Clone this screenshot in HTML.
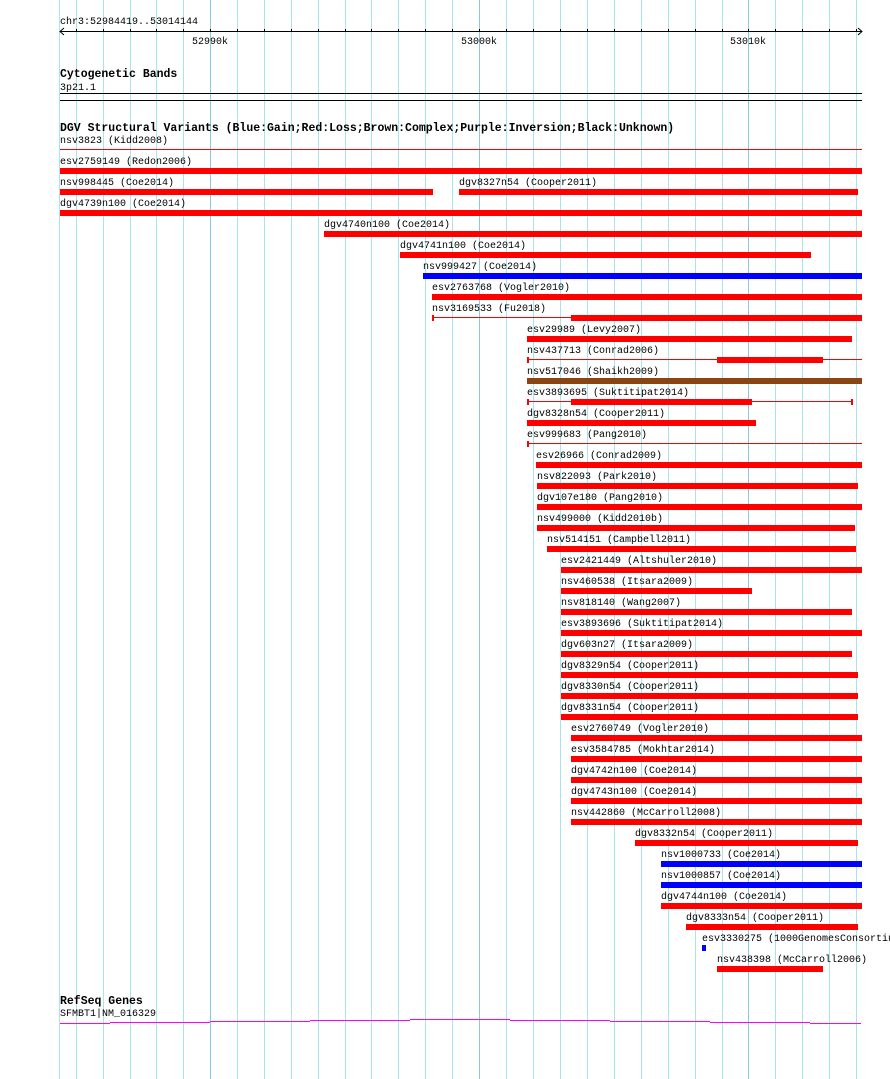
<!DOCTYPE html>
<html><head><meta charset="utf-8"><style>html,body{margin:0;padding:0;background:#fff}svg{display:block}text{font-family:"Liberation Mono",monospace;font-size:10px;fill:#000}.b{font-weight:bold;font-size:11.5px}</style></head><body>
<svg width="890" height="1079" xmlns="http://www.w3.org/2000/svg">
<g stroke="#a8e4ee" stroke-width="1">
<line x1="59.5" y1="0" x2="59.5" y2="1079"/><line x1="76.5" y1="0" x2="76.5" y2="1079"/><line x1="103.5" y1="0" x2="103.5" y2="1079"/><line x1="130.5" y1="0" x2="130.5" y2="1079"/><line x1="156.5" y1="0" x2="156.5" y2="1079"/><line x1="183.5" y1="0" x2="183.5" y2="1079"/><line x1="237.5" y1="0" x2="237.5" y2="1079"/><line x1="264.5" y1="0" x2="264.5" y2="1079"/><line x1="291.5" y1="0" x2="291.5" y2="1079"/><line x1="318.5" y1="0" x2="318.5" y2="1079"/><line x1="345.5" y1="0" x2="345.5" y2="1079"/><line x1="371.5" y1="0" x2="371.5" y2="1079"/><line x1="398.5" y1="0" x2="398.5" y2="1079"/><line x1="425.5" y1="0" x2="425.5" y2="1079"/><line x1="452.5" y1="0" x2="452.5" y2="1079"/><line x1="506.5" y1="0" x2="506.5" y2="1079"/><line x1="533.5" y1="0" x2="533.5" y2="1079"/><line x1="560.5" y1="0" x2="560.5" y2="1079"/><line x1="587.5" y1="0" x2="587.5" y2="1079"/><line x1="614.5" y1="0" x2="614.5" y2="1079"/><line x1="641.5" y1="0" x2="641.5" y2="1079"/><line x1="668.5" y1="0" x2="668.5" y2="1079"/><line x1="695.5" y1="0" x2="695.5" y2="1079"/><line x1="722.5" y1="0" x2="722.5" y2="1079"/><line x1="775.5" y1="0" x2="775.5" y2="1079"/><line x1="802.5" y1="0" x2="802.5" y2="1079"/><line x1="829.5" y1="0" x2="829.5" y2="1079"/><line x1="856.5" y1="0" x2="856.5" y2="1079"/>
</g>
<g stroke="#88c8e8" stroke-width="1"><line x1="210.5" y1="0" x2="210.5" y2="1079"/><line x1="479.5" y1="0" x2="479.5" y2="1079"/><line x1="748.5" y1="0" x2="748.5" y2="1079"/></g>
<text x="60" y="24">chr3:52984419..53014144</text>
<g stroke="#000" stroke-width="1">
<line x1="60" y1="31.5" x2="862" y2="31.5"/>
<polyline points="64,28 60,31.5 64,35" fill="none"/><polyline points="858,28 862,31.5 858,35" fill="none"/>
<path d="M76.5 29v3M103.5 29v3M130.5 29v3M156.5 29v3M183.5 29v3M210.5 29v3M237.5 29v3M264.5 29v3M291.5 29v3M318.5 29v3M345.5 29v3M371.5 29v3M398.5 29v3M425.5 29v3M452.5 29v3M479.5 29v3M506.5 29v3M533.5 29v3M560.5 29v3M587.5 29v3M614.5 29v3M641.5 29v3M668.5 29v3M695.5 29v3M722.5 29v3M748.5 29v3M775.5 29v3M802.5 29v3M829.5 29v3M856.5 29v3"/>
<line x1="60" y1="93.5" x2="862" y2="93.5"/><line x1="60" y1="100.5" x2="862" y2="100.5"/>
</g>
<text x="192" y="44">52990k</text><text x="461" y="44">53000k</text><text x="730" y="44">53010k</text>
<text class="b" x="60" y="77">Cytogenetic Bands</text>
<text x="60" y="90">3p21.1</text>
<text class="b" x="60" y="131">DGV Structural Variants (Blue:Gain;Red:Loss;Brown:Complex;Purple:Inversion;Black:Unknown)</text>
<g transform="translate(0,-1)">
<text x="60" y="144">nsv3823 (Kidd2008)</text>
<text x="60" y="165">esv2759149 (Redon2006)</text>
<text x="60" y="186">nsv998445 (Coe2014)</text><text x="459" y="186">dgv8327n54 (Cooper2011)</text>
<text x="60" y="207">dgv4739n100 (Coe2014)</text>
<text x="324" y="228">dgv4740n100 (Coe2014)</text>
<text x="400" y="249">dgv4741n100 (Coe2014)</text>
<text x="423" y="270">nsv999427 (Coe2014)</text>
<text x="432" y="291">esv2763768 (Vogler2010)</text>
<text x="432" y="312">nsv3169533 (Fu2018)</text>
<text x="527" y="333">esv29989 (Levy2007)</text>
<text x="527" y="354">nsv437713 (Conrad2006)</text>
<text x="527" y="375">nsv517046 (Shaikh2009)</text>
<text x="527" y="396">esv3893695 (Suktitipat2014)</text>
<text x="527" y="417">dgv8328n54 (Cooper2011)</text>
<text x="527" y="438">esv999683 (Pang2010)</text>
<text x="536" y="459">esv26966 (Conrad2009)</text>
<text x="537" y="480">nsv822093 (Park2010)</text>
<text x="537" y="501">dgv107e180 (Pang2010)</text>
<text x="537" y="522">nsv499000 (Kidd2010b)</text>
<text x="547" y="543">nsv514151 (Campbell2011)</text>
<text x="561" y="564">esv2421449 (Altshuler2010)</text>
<text x="561" y="585">nsv460538 (Itsara2009)</text>
<text x="561" y="606">nsv818140 (Wang2007)</text>
<text x="561" y="627">esv3893696 (Suktitipat2014)</text>
<text x="561" y="648">dgv603n27 (Itsara2009)</text>
<text x="561" y="669">dgv8329n54 (Cooper2011)</text>
<text x="561" y="690">dgv8330n54 (Cooper2011)</text>
<text x="561" y="711">dgv8331n54 (Cooper2011)</text>
<text x="571" y="732">esv2760749 (Vogler2010)</text>
<text x="571" y="753">esv3584785 (Mokhtar2014)</text>
<text x="571" y="774">dgv4742n100 (Coe2014)</text>
<text x="571" y="795">dgv4743n100 (Coe2014)</text>
<text x="571" y="816">nsv442860 (McCarroll2008)</text>
<text x="635" y="837">dgv8332n54 (Cooper2011)</text>
<text x="661" y="858">nsv1000733 (Coe2014)</text>
<text x="661" y="879">nsv1000857 (Coe2014)</text>
<text x="661" y="900">dgv4744n100 (Coe2014)</text>
<text x="686" y="921">dgv8333n54 (Cooper2011)</text>
<text x="702" y="942">esv3330275 (1000GenomesConsortium)</text>
<text x="717" y="963">nsv438398 (McCarroll2006)</text>
</g>
<rect x="60" y="149" width="802" height="1" fill="#f00"/>
<g fill="#f00">
<rect x="60" y="168" width="802" height="6"/>
<rect x="60" y="189" width="373" height="6"/><rect x="459" y="189" width="399" height="6"/>
<rect x="60" y="210" width="802" height="6"/>
<rect x="324" y="231" width="538" height="6"/>
<rect x="400" y="252" width="411" height="6"/>
<rect x="432" y="294" width="430" height="6"/>
<rect x="432" y="317" width="430" height="1"/><rect x="432" y="315" width="2" height="6"/><rect x="571" y="315" width="291" height="6"/>
<rect x="527" y="336" width="325" height="6"/>
<rect x="527" y="359" width="335" height="1"/><rect x="527" y="357" width="2" height="6"/><rect x="717" y="357" width="106" height="6"/>
<rect x="527" y="401" width="325" height="1"/><rect x="527" y="399" width="2" height="6"/><rect x="851" y="399" width="2" height="6"/><rect x="571" y="399" width="181" height="6"/>
<rect x="527" y="420" width="229" height="6"/>
<rect x="527" y="443" width="335" height="1"/><rect x="527" y="441" width="2" height="6"/>
<rect x="536" y="462" width="326" height="6"/>
<rect x="537" y="483" width="321" height="6"/>
<rect x="537" y="504" width="325" height="6"/>
<rect x="537" y="525" width="318" height="6"/>
<rect x="547" y="546" width="309" height="6"/>
<rect x="561" y="567" width="301" height="6"/>
<rect x="561" y="588" width="191" height="6"/>
<rect x="561" y="609" width="291" height="6"/>
<rect x="561" y="630" width="301" height="6"/>
<rect x="561" y="651" width="291" height="6"/>
<rect x="561" y="672" width="297" height="6"/>
<rect x="561" y="693" width="297" height="6"/>
<rect x="561" y="714" width="297" height="6"/>
<rect x="571" y="735" width="291" height="6"/>
<rect x="571" y="756" width="291" height="6"/>
<rect x="571" y="777" width="291" height="6"/>
<rect x="571" y="798" width="291" height="6"/>
<rect x="571" y="819" width="291" height="6"/>
<rect x="635" y="840" width="223" height="6"/>
<rect x="661" y="903" width="201" height="6"/>
<rect x="686" y="924" width="172" height="6"/>
<rect x="717" y="966" width="106" height="6"/>
</g>
<rect x="527" y="378" width="335" height="6" fill="#8b4513"/>
<g fill="#00f"><rect x="423" y="273" width="439" height="6"/><rect x="661" y="861" width="201" height="6"/><rect x="661" y="882" width="201" height="6"/><rect x="702" y="945" width="4" height="6"/></g>
<text class="b" x="60" y="1004">RefSeq Genes</text>
<text x="60" y="1016">SFMBT1|NM_016329</text>
<g fill="#f0f"><rect x="60" y="1023" width="50" height="1"/><rect x="110" y="1022" width="100" height="1"/><rect x="210" y="1021" width="100" height="1"/><rect x="310" y="1020" width="100" height="1"/><rect x="410" y="1019" width="100" height="1"/><rect x="510" y="1020" width="100" height="1"/><rect x="610" y="1021" width="100" height="1"/><rect x="710" y="1022" width="100" height="1"/><rect x="810" y="1023" width="51" height="1"/></g>
</svg>
</body></html>
